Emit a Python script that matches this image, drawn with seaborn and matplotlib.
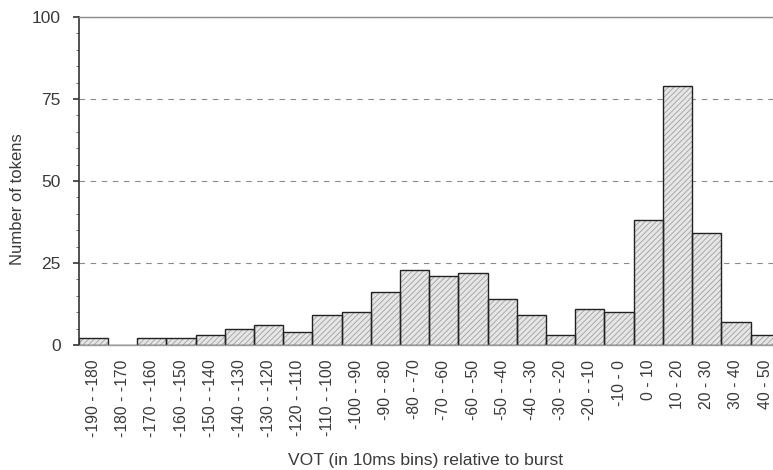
import pandas as pd
import matplotlib
matplotlib.use("Agg")
import matplotlib.pyplot as plt
from matplotlib.ticker import MultipleLocator
import seaborn as sns

# -------- DATA --------
bins = ["-190 - -180", "-180 - -170", "-170 - -160", "-160 - -150", "-150 - -140",
        "-140 - -130", "-130 - -120", "-120 - -110", "-110 - -100", "-100 - -90",
        "-90 - -80", "-80 - -70", "-70 - -60", "-60 - -50", "-50 - -40",
        "-40 - -30", "-30 - -20", "-20 - -10", "-10 - 0", "0 - 10",
        "10 - 20", "20 - 30", "30 - 40", "40 - 50"]
tokens = [2, 0, 2, 2, 3, 5, 6, 4, 9, 10, 16, 23, 21, 22, 14, 9, 3, 11, 10, 38, 79, 34, 7, 3]

df = pd.DataFrame({"bin": bins, "tokens": tokens})

# -------- STYLE --------
sns.set_style("white")
plt.rcParams["font.family"] = ["Liberation Sans", "DejaVu Sans"]
plt.rcParams["hatch.color"] = "#a0a0a0"
plt.rcParams["hatch.linewidth"] = 0.6
text_color = "#3a3a3a"

fig = plt.figure(figsize=(7.73, 4.70), dpi=100)
ax = fig.add_axes([0.102, 0.266, 0.898, 0.698])

# hatched fill
sns.barplot(data=df, x="bin", y="tokens", color="#e6e6e6", width=1.0,
            linewidth=0, saturation=1, ax=ax, order=bins)
for p in ax.patches:
    p.set_hatch("//////")
    p.set_edgecolor("#a0a0a0")
    p.set_linewidth(0)

# black outlines on top
sns.barplot(data=df, x="bin", y="tokens", color="#222222", width=1.0,
            fill=False, linewidth=1.0, ax=ax, order=bins)

ax.set_xlim(-0.5, 23.27)
ax.set_ylim(0, 100)
ax.yaxis.set_major_locator(MultipleLocator(25))
ax.yaxis.set_minor_locator(MultipleLocator(5))
ax.tick_params(axis="y", which="major", left=True, length=4, width=1.2,
               color="#333333", labelsize=12.5, labelcolor=text_color, pad=9)
ax.tick_params(axis="y", which="minor", left=True, length=2, width=0.6, color="#555555")
ax.tick_params(axis="x", bottom=False, labelsize=11.3, labelcolor=text_color,
               labelrotation=90, pad=7)

# dashed gridlines
ax.yaxis.grid(True, which="major", linestyle=(0, (5, 5)), color="#8a8a8a", linewidth=0.8)
ax.set_axisbelow(True)

ax.spines["right"].set_visible(False)
ax.spines["top"].set_color("#8a8a8a")
ax.spines["top"].set_linewidth(1.0)
ax.spines["left"].set_color("#333333")
ax.spines["left"].set_linewidth(1.2)
ax.spines["bottom"].set_color("#9a9a9a")
ax.spines["bottom"].set_linewidth(1.0)

ax.set_xlabel("VOT (in 10ms bins) relative to burst", fontsize=12.6,
              color=text_color, labelpad=11)
ax.set_ylabel("Number of tokens", fontsize=12, color=text_color)
ax.yaxis.set_label_coords(-0.077, 0.445)

plt.savefig("out.png", dpi=100)
